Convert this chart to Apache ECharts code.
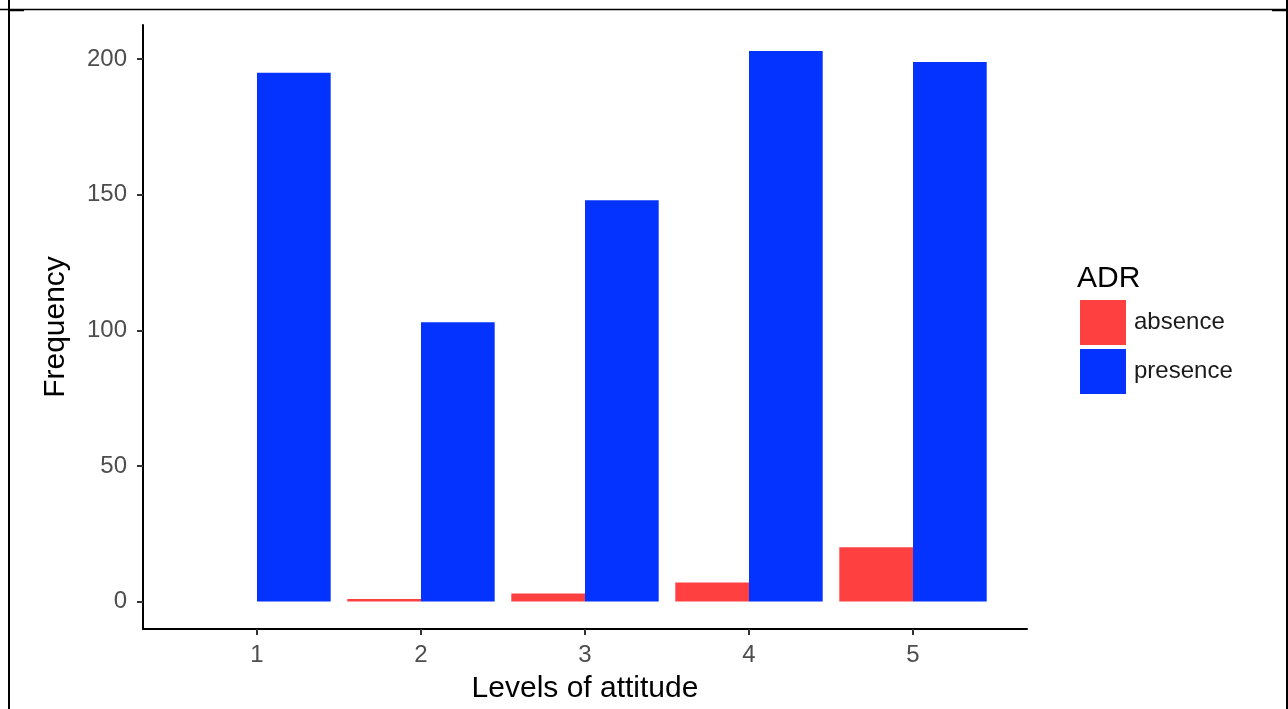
<!DOCTYPE html>
<html>
<head>
<meta charset="utf-8">
<script src="https://cdn.jsdelivr.net/npm/echarts@6/dist/echarts.min.js"></script>
<style>
  html, body { margin: 0; padding: 0; background: #fff; }
  #chart { width: 1288px; height: 709px; }
</style>
</head>
<body>
<div id="chart"></div>
<script>
// Data
const categories = [1, 2, 3, 4, 5];
const absence = [0, 1, 3, 7, 20];
const presence = [195, 103, 148, 203, 199];
const yTicks = [0, 50, 100, 150, 200];
const seriesNames = ['absence', 'presence'];
const legendTitle = 'ADR';
const xTitle = 'Levels of attitude';
const yTitle = 'Frequency';

const FONT = '"Liberation Sans", Arial, Helvetica, sans-serif';
const chart = echarts.init(document.getElementById('chart'), null, { renderer: 'canvas' });

const option = {
  animation: false,
  backgroundColor: '#ffffff',
  textStyle: { fontFamily: FONT },
  title: {
    text: legendTitle,
    left: 1077,
    top: 264,
    padding: 0,
    textStyle: { fontFamily: FONT, fontSize: 30, fontWeight: 'normal', color: '#000' }
  },
  legend: {
    data: seriesNames,
    orient: 'vertical',
    left: 1080,
    top: 300,
    padding: 0,
    itemWidth: 46,
    itemHeight: 45,
    itemGap: 4,
    icon: 'rect',
    selectedMode: false,
    textStyle: { fontFamily: FONT, fontSize: 24, color: '#1a1a1a', padding: [3, 0, 0, 3] }
  },
  grid: { left: 143, right: 261, top: 25, bottom: 77.5, containLabel: false },
  xAxis: {
    type: 'value',
    min: 0.305,
    max: 5.695,
    name: xTitle,
    nameLocation: 'middle',
    nameGap: 45,
    nameTextStyle: { fontFamily: FONT, fontSize: 30, color: '#000' },
    splitLine: { show: false },
    axisLine: { show: true, onZero: false, lineStyle: { color: '#000', width: 2 } },
    axisTick: { show: true, customValues: categories, length: 6, lineStyle: { color: '#333', width: 2 } },
    axisLabel: { customValues: categories, color: '#4d4d4d', fontSize: 24, margin: 14, fontFamily: FONT }
  },
  yAxis: {
    type: 'value',
    min: -10.1,
    max: 212.6,
    name: yTitle,
    nameLocation: 'middle',
    nameGap: 72,
    nameRotate: 90,
    nameTextStyle: { fontFamily: FONT, fontSize: 30, color: '#000' },
    splitLine: { show: false },
    axisLine: { show: true, onZero: false, lineStyle: { color: '#000', width: 2 } },
    axisTick: { show: true, customValues: yTicks, length: 6, lineStyle: { color: '#333', width: 2 } },
    axisLabel: { customValues: yTicks, color: '#4d4d4d', fontSize: 24, margin: 16, fontFamily: FONT }
  },
  series: [
    {
      name: seriesNames[0],
      type: 'bar',
      barWidth: 73.7,
      barGap: '0%',
      itemStyle: { color: '#FF4040' },
      data: categories.map((c, i) => [c, absence[i]])
    },
    {
      name: seriesNames[1],
      type: 'bar',
      barWidth: 73.7,
      barGap: '0%',
      itemStyle: { color: '#0433FF' },
      data: categories.map((c, i) => [c, presence[i]])
    }
  ],
  graphic: [
    { type: 'line', silent: true, shape: { x1: 0, y1: 9.5, x2: 1288, y2: 9.5 }, style: { stroke: '#000', lineWidth: 1.5 } },
    { type: 'line', silent: true, shape: { x1: 9, y1: 0, x2: 9, y2: 709 }, style: { stroke: '#000', lineWidth: 2 } },
    { type: 'line', silent: true, shape: { x1: 1287, y1: 0, x2: 1287, y2: 709 }, style: { stroke: '#000', lineWidth: 2 } },
    { type: 'line', silent: true, shape: { x1: 9, y1: 10.5, x2: 24, y2: 10.5 }, style: { stroke: '#000', lineWidth: 1.5 } },
    { type: 'line', silent: true, shape: { x1: 1272, y1: 10.5, x2: 1288, y2: 10.5 }, style: { stroke: '#000', lineWidth: 1.5 } }
  ]
};

chart.setOption(option);
</script>
</body>
</html>
